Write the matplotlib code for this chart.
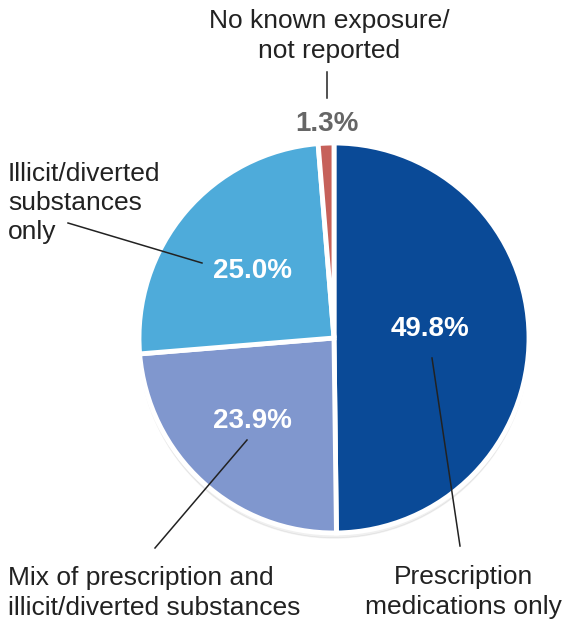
import matplotlib.pyplot as plt
from matplotlib import font_manager

labels = ["Prescription\nmedications only",
          "Mix of prescription and\nillicit/diverted substances",
          "Illicit/diverted\nsubstances\nonly",
          "No known exposure/\nnot reported"]
shares = [49.8, 23.9, 25.0, 1.3]
pct_text = ["49.8%", "23.9%", "25.0%", "1.3%"]
colors = ["#0a4a97", "#8097ce", "#4eabda", "#c6615a"]

names = {f.name for f in font_manager.fontManager.ttflist}
fam = ["Liberation Sans Narrow"] if "Liberation Sans Narrow" in names else ["Liberation Sans"]
fam = fam + ["DejaVu Sans"]

W, H = 566, 622
fig = plt.figure(figsize=(W / 100, H / 100), dpi=100)
ax = fig.add_axes([0, 0, 1, 1])


def y(py):
    return H - py


cx, cy, r = 334, y(338), 195

# soft shadow below pie
shadow = plt.Circle((cx, cy - 5), r, color="#000000", alpha=0.06, zorder=0)
ax.add_patch(shadow)

ax.pie(shares, colors=colors, startangle=90, counterclock=False,
       center=(cx, cy), radius=r, frame=True,
       wedgeprops=dict(edgecolor="white", linewidth=3.5))
ax.set_xlim(0, W)
ax.set_ylim(0, H)
ax.set_aspect("equal")
ax.axis("off")

# percent labels
pct_pos = [(430, 329), (252, 421), (252, 271), (327, 124)]
pct_col = ["white", "white", "white", "#666666"]
for t, (px, py), c in zip(pct_text, pct_pos, pct_col):
    ax.text(px, y(py), t, ha="center", va="center", color=c, fontsize=20,
            fontweight="bold", family=fam)

# category labels
txt = dict(fontsize=19, color="#222222", family=fam, linespacing=1.27, va="center")
ax.text(329, y(36), labels[3], ha="center", **txt)
ax.text(8, y(203), labels[2], ha="left", **txt)
ax.text(8, y(593), labels[1], ha="left", **txt)
ax.text(463, y(592), labels[0], ha="center", **txt)

# leader lines
lines = [((327, 72), (327, 98)),
         ((68, 223), (202, 263)),
         ((155, 548), (247, 440)),
         ((432, 358), (460, 546))]
for (x0, y0), (x1, y1) in lines:
    ax.plot([x0, x1], [y(y0), y(y1)], color="#222222", lw=1.1)

fig.savefig("out.png", dpi=100)
